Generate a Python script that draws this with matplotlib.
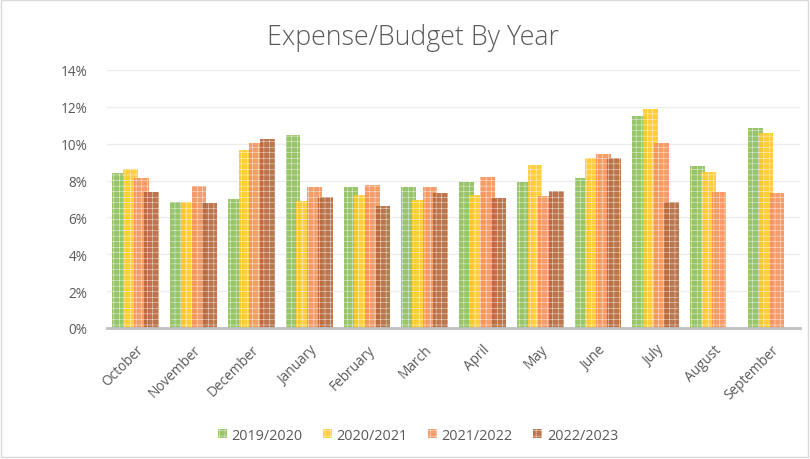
import matplotlib
matplotlib.use("Agg")
import matplotlib.pyplot as plt
import numpy as np
from matplotlib.patches import Rectangle
from matplotlib.ticker import FuncFormatter

months = ["October", "November", "December", "January", "February", "March",
          "April", "May", "June", "July", "August", "September"]
series_names = ["2019/2020", "2020/2021", "2021/2022", "2022/2023"]
y2019 = [8.39, 6.84, 6.98, 10.49, 7.65, 7.65, 7.94, 7.90, 8.14, 11.50, 8.79, 10.85]
y2020 = [8.63, 6.84, 9.66, 6.89, 7.23, 6.93, 7.23, 8.83, 9.22, 11.88, 8.46, 10.58]
y2021 = [8.12, 7.70, 10.06, 7.65, 7.78, 7.65, 8.19, 7.16, 9.46, 10.02, 7.38, 7.33]
y2022 = [7.40, 6.78, 10.26, 7.11, 6.60, 7.31, 7.05, 7.43, 9.22, 6.84, None, None]
series = [y2019, y2020, y2021, y2022]
colors = ["#8DBE5A", "#FFC928", "#F4935A", "#B5673A"]

plt.rcParams['font.family'] = ['Open Sans', 'DejaVu Sans']
plt.rcParams['hatch.linewidth'] = 0.3

fig = plt.figure(figsize=(8.1, 4.6), dpi=100)
ax = fig.add_axes([0.132, 0.2848, 0.856, 0.561])

x = np.arange(len(months))
bw = 0.255
step = 0.185
offsets = (np.arange(4) - 1.5) * step
for i, (vals, c, name) in enumerate(zip(series, colors, series_names)):
    v = np.array([np.nan if a is None else a for a in vals], dtype=float)
    ax.bar(x + offsets[i], v, width=bw, color=c, alpha=0.9, edgecolor=(1, 1, 1, 0.45),
           linewidth=0, hatch="+++", label=name, zorder=3 + i)

ax.set_xlim(-0.5, len(months) - 0.5)
ax.set_ylim(0, 14)
ax.set_yticks(np.arange(0, 15, 2))
ax.yaxis.set_major_formatter(FuncFormatter(lambda v, p: f"{int(v)}%"))
ax.grid(axis="y", color="#EDEDED", linewidth=1, zorder=0)
for s in ["top", "right", "left"]:
    ax.spines[s].set_visible(False)
ax.spines["bottom"].set_color("#BFBFBF")
ax.spines["bottom"].set_linewidth(2)
ax.spines["bottom"].set_zorder(10)
ax.tick_params(axis="both", length=0, colors="#595959", labelsize=9.8)
ax.tick_params(axis="y", pad=14)
ax.set_xticks(x)
ax.set_xticklabels(months, rotation=45, ha="right", rotation_mode="anchor")
ax.tick_params(axis="x", pad=10)

fig.text(0.51, 0.917, "Expense/Budget By Year", ha="center", va="center",
         fontsize=19.3, color="#595959", fontweight="light")

leg = fig.legend(loc="center", bbox_to_anchor=(0.516, 0.052), ncol=4, frameon=False,
                 fontsize=10.4, handlelength=0.6, handleheight=0.6, columnspacing=1.4,
                 handletextpad=0.35, labelcolor="#595959")

fig.patches.append(Rectangle((0.001, 0.004), 0.996, 0.994, transform=fig.transFigure,
                             fill=False, edgecolor="#D9D9D9", linewidth=1))

fig.savefig("out.png", dpi=100)
